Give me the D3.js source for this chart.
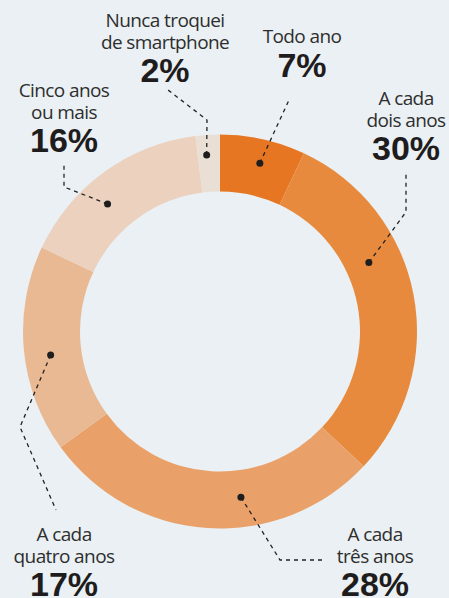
<!DOCTYPE html>
<html>
<head>
<meta charset="utf-8">
<script src="https://cdn.jsdelivr.net/npm/d3@7/dist/d3.min.js"></script>
<style>
  html, body { margin: 0; padding: 0; background: #eaf0f3; }
  svg { display: block; }
</style>
</head>
<body>
<div id="chart"></div>
<script>
// data
const categories = ['Todo ano', 'A cada dois anos', 'A cada três anos', 'A cada quatro anos', 'Cinco anos ou mais', 'Nunca troquei de smartphone'];
const values = [7, 30, 28, 17, 16, 2];
const labelLines = [
  ['Todo ano'],
  ['A cada', 'dois anos'],
  ['A cada', 'três anos'],
  ['A cada', 'quatro anos'],
  ['Cinco anos', 'ou mais'],
  ['Nunca troquei', 'de smartphone']
];
const colors = ['#e67621', '#e78a3e', '#e9a169', '#e9b994', '#ebd1be', '#e9dfd4'];

// layout (label anchors + leader lines), kept apart from the data
let width = 449,
    height = 598,
    cx = 220,
    cy = 331.5,
    outerR = 197,
    innerR = 140;

// dot: position along the ring in percent units; lx/ly: label centre + first baseline; pts: elbows
const layout = [
  { dot: 3.7,  dr: 173, lx: 302, ly: 43,  pts: [[289, 100]] },
  { dot: 18.1, dr: 164, lx: 406, ly: 105, pts: [[406, 212], [406, 172]] },
  { dot: 48,   dr: 167, lx: 375, ly: 541, pts: [[280, 560], [325, 560]] },
  { dot: 72.8, dr: 171, lx: 64,  ly: 541, pts: [[20, 427], [56, 510]] },
  { dot: 88.5, dr: 170, lx: 64,  ly: 97,  pts: [[64, 187], [64, 165]] },
  { dot: 98.8, dr: 177, lx: 165, ly: 27,  pts: [[207, 120], [168, 90]] }
];

let svg = d3.select('#chart').append('svg')
  .attr('width', width)
  .attr('height', height);

svg.append('rect')
  .attr('width', width)
  .attr('height', height)
  .attr('fill', '#eaf0f3');

let angle = d3.scaleLinear().domain([0, d3.sum(values)]).range([0, 2 * Math.PI]);

let pie = d3.pie().sort(null).value(d => d);
let arc = d3.arc().innerRadius(innerR).outerRadius(outerR);

let g = svg.append('g').attr('transform', `translate(${cx},${cy})`);

g.selectAll('path.slice')
  .data(pie(values))
  .enter().append('path')
    .attr('class', 'slice')
    .attr('d', arc)
    .attr('fill', (d, i) => colors[i]);

// leader lines + dots
let dotPos = layout.map(l => {
  let a = angle(l.dot);
  return [cx + l.dr * Math.sin(a), cy - l.dr * Math.cos(a)];
});

let line = d3.line();

svg.selectAll('path.leader')
  .data(layout)
  .enter().append('path')
    .attr('class', 'leader')
    .attr('d', (d, i) => line([dotPos[i]].concat(d.pts)))
    .attr('fill', 'none')
    .attr('stroke', '#222')
    .attr('stroke-width', 1.3)
    .attr('stroke-dasharray', '4,4');

svg.selectAll('circle.dot')
  .data(dotPos)
  .enter().append('circle')
    .attr('class', 'dot')
    .attr('cx', d => d[0])
    .attr('cy', d => d[1])
    .attr('r', 3.5)
    .attr('fill', '#1e1e1e');

// labels
let labels = svg.selectAll('g.label')
  .data(categories)
  .enter().append('g')
    .attr('class', 'label')
    .attr('transform', (d, i) => `translate(${layout[i].lx},${layout[i].ly})`);

labels.each(function(d, i) {
  let el = d3.select(this);
  let lines = labelLines[i];
  lines.forEach((t, j) => {
    el.append('text')
      .attr('y', j * 21.5)
      .attr('text-anchor', 'middle')
      .style('font-family', '"Open Sans", sans-serif')
      .style('font-size', '19px')
      .style('letter-spacing', '-0.6px')
      .style('fill', '#2e2e2e')
      .text(t);
  });
  el.append('text')
    .attr('y', (lines.length - 1) * 21.5 + 33.5)
    .attr('text-anchor', 'middle')
    .style('font-family', '"Liberation Sans", sans-serif')
    .style('font-weight', 'bold')
    .style('font-size', '34px')
    .style('fill', '#1f1c1d')
    .text(values[i] + '%');
});
</script>
</body>
</html>
